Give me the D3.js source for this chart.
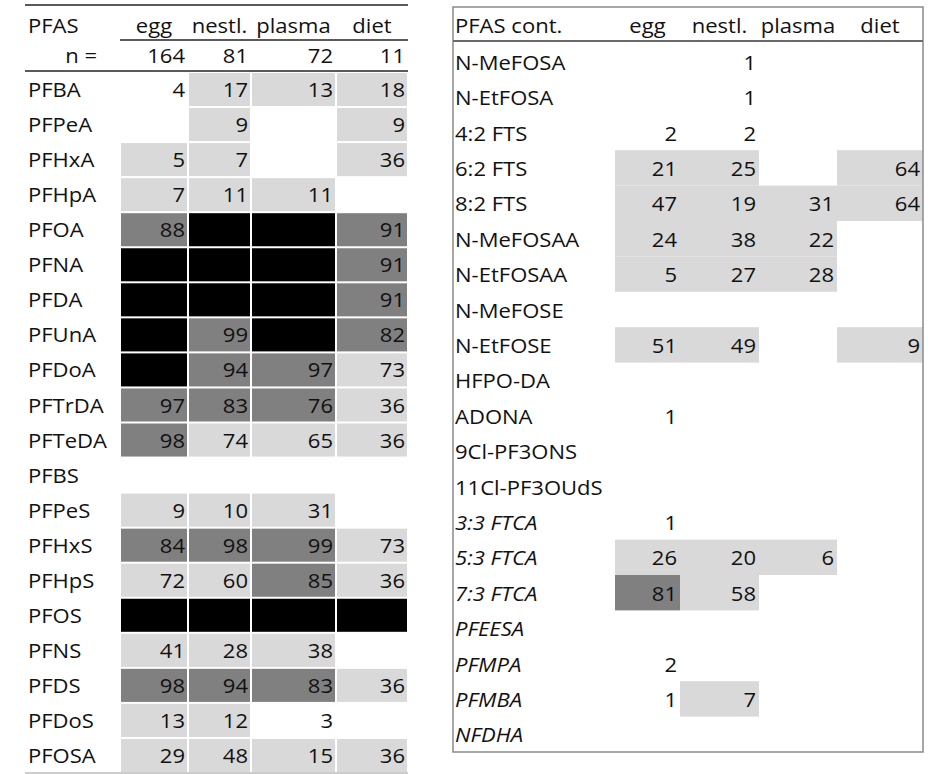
<!DOCTYPE html>
<html><head><meta charset="utf-8">
<script src="https://cdn.jsdelivr.net/npm/d3@7"></script>
<style>body{margin:0;background:#fff}svg{display:block}</style>
</head><body><svg id="c" width="933" height="774"></svg>
<script>
// ---------------- DATA ----------------
const columns = ["egg", "nestl.", "plasma", "diet"];
const sampleSizes = [164, 81, 72, 11];

const leftCompounds = ["PFBA","PFPeA","PFHxA","PFHpA","PFOA","PFNA","PFDA","PFUnA","PFDoA","PFTrDA",
  "PFTeDA","PFBS","PFPeS","PFHxS","PFHpS","PFOS","PFNS","PFDS","PFDoS","PFOSA"];
const leftEgg    = [4, null, 5, 7, 88, 100, 100, 100, 100, 97, 98, null, 9, 84, 72, 100, 41, 98, 13, 29];
const leftNestl  = [17, 9, 7, 11, 100, 100, 100, 99, 94, 83, 74, null, 10, 98, 60, 100, 28, 94, 12, 48];
const leftPlasma = [13, null, null, 11, 100, 100, 100, 100, 97, 76, 65, null, 31, 99, 85, 100, 38, 83, 3, 15];
const leftDiet   = [18, 9, 36, null, 91, 91, 91, 82, 73, 36, 36, null, null, 73, 36, 100, null, 36, null, 36];

const rightCompounds = ["N-MeFOSA","N-EtFOSA","4:2 FTS","6:2 FTS","8:2 FTS","N-MeFOSAA","N-EtFOSAA","N-MeFOSE",
  "N-EtFOSE","HFPO-DA","ADONA","9Cl-PF3ONS","11Cl-PF3OUdS","3:3 FTCA","5:3 FTCA","7:3 FTCA","PFEESA","PFMPA","PFMBA","NFDHA"];
const rightItalic = ["3:3 FTCA","5:3 FTCA","7:3 FTCA","PFEESA","PFMPA","PFMBA","NFDHA"];
const rightEgg    = [null, null, 2, 21, 47, 24, 5, null, 51, null, 1, null, null, 1, 26, 81, null, 2, 1, null];
const rightNestl  = [1, 1, 2, 25, 19, 38, 27, null, 49, null, null, null, null, null, 20, 58, null, null, 7, null];
const rightPlasma = [null, null, null, null, 31, 22, 28, null, null, null, null, null, null, null, 6, null, null, null, null, null];
const rightDiet   = [null, null, null, 64, 64, null, null, null, 9, null, null, null, null, null, null, null, null, null, null, null];

// ---------------- BUILD ----------------
function cellsOf(compounds, series) {
  const out = [];
  compounds.forEach((c, i) => columns.forEach((col, j) => out.push({compound: c, column: col, value: series[j][i]})));
  return out;
}
const leftCells = cellsOf(leftCompounds, [leftEgg, leftNestl, leftPlasma, leftDiet]);
const rightCells = cellsOf(rightCompounds, [rightEgg, rightNestl, rightPlasma, rightDiet]);

const fill = d3.scaleThreshold().domain([5, 75, 100]).range(["none", "#d9d9d9", "#808080", "#000000"]);

const FONT = "'Open Sans', 'Noto Sans', sans-serif";
const FS = 19.5;
const SX = 1.13;
const svg = d3.select("#c");

function colScale(x0, widths) {
  const starts = widths.map((w, i) => x0 + d3.sum(widths.slice(0, i)));
  const s = d3.scaleOrdinal().domain(columns).range(starts);
  const w = d3.scaleOrdinal().domain(columns).range(widths);
  return {x: s, w: w};
}

function txt(g, x, y, s, anchor, italic) {
  return g.append("text")
    .attr("transform", `translate(${x},${y}) scale(${SX},1)`)
    .attr("text-anchor", anchor)
    .attr("font-family", FONT)
    .attr("font-size", FS)
    .attr("font-style", italic ? "italic" : "normal")
    .attr("fill", "#111")
    .text(s);
}

// ---------- LEFT TABLE ----------
{
  const g = svg.append("g");
  const cx = colScale(120, [68, 63, 85, 72]);
  const y = d3.scaleBand().domain(leftCompounds).range([72, 773]);
  const xEnd = 408;

  g.selectAll("rect.cell").data(leftCells.filter(d => d.value != null && fill(d.value) !== "none"))
    .join("rect").attr("class", "cell")
    .attr("x", d => cx.x(d.column) + 1)
    .attr("y", d => y(d.compound) + 1)
    .attr("width", d => cx.w(d.column) - 2)
    .attr("height", y.bandwidth() - 2)
    .attr("fill", d => fill(d.value));

  g.append("line").attr("x1", 25).attr("x2", xEnd).attr("y1", 5).attr("y2", 5).attr("stroke", "#5a5a5a").attr("stroke-width", 2);
  g.append("line").attr("x1", 120).attr("x2", xEnd).attr("y1", 40).attr("y2", 40).attr("stroke", "#5a5a5a").attr("stroke-width", 2);
  g.append("line").attr("x1", 25).attr("x2", xEnd).attr("y1", 71).attr("y2", 71).attr("stroke", "#5a5a5a").attr("stroke-width", 2);
  g.append("line").attr("x1", 25).attr("x2", xEnd).attr("y1", 773).attr("y2", 773).attr("stroke", "#bbbbbb").attr("stroke-width", 1.5);

  txt(g, 28, 33, "PFAS", "start");
  columns.forEach(c => txt(g, cx.x(c) + cx.w(c) / 2, 33, c, "middle"));
  txt(g, 97, 63, "n =", "end");
  columns.forEach((c, j) => txt(g, cx.x(c) + cx.w(c) - 3, 63, sampleSizes[j], "end"));

  leftCompounds.forEach(c => txt(g, 28, y(c) + y.bandwidth() - 10, c, "start"));
  leftCells.filter(d => d.value != null && d.value < 100).forEach(d =>
    txt(g, cx.x(d.column) + cx.w(d.column) - 3, y(d.compound) + y.bandwidth() - 10, d.value, "end"));
}

// ---------- RIGHT TABLE ----------
{
  const g = svg.append("g");
  const cx = colScale(615, [65, 79, 78, 86]);
  const y = d3.scaleBand().domain(rightCompounds).range([44, 752]);
  const x0 = 453, x1 = 923;

  g.selectAll("rect.cell").data(rightCells.filter(d => d.value != null && fill(d.value) !== "none"))
    .join("rect").attr("class", "cell")
    .attr("x", d => cx.x(d.column))
    .attr("y", d => y(d.compound))
    .attr("width", d => cx.w(d.column))
    .attr("height", y.bandwidth())
    .attr("fill", d => fill(d.value));

  g.append("rect").attr("x", x0).attr("y", 7).attr("width", x1 - x0).attr("height", 752 - 7)
    .attr("fill", "none").attr("stroke", "#8a8a8a").attr("stroke-width", 1.5);
  g.append("line").attr("x1", x0).attr("x2", x1).attr("y1", 41).attr("y2", 41).attr("stroke", "#6a6a6a").attr("stroke-width", 2);

  txt(g, 455, 33, "PFAS cont.", "start");
  columns.forEach(c => txt(g, cx.x(c) + cx.w(c) / 2, 33, c, "middle"));

  rightCompounds.forEach(c => txt(g, 455, y(c) + y.bandwidth() / 2 + 8, c, "start", rightItalic.includes(c)));
  rightCells.filter(d => d.value != null).forEach(d =>
    txt(g, cx.x(d.column) + cx.w(d.column) - 3, y(d.compound) + y.bandwidth() / 2 + 8, d.value, "end"));
}
</script></body></html>
